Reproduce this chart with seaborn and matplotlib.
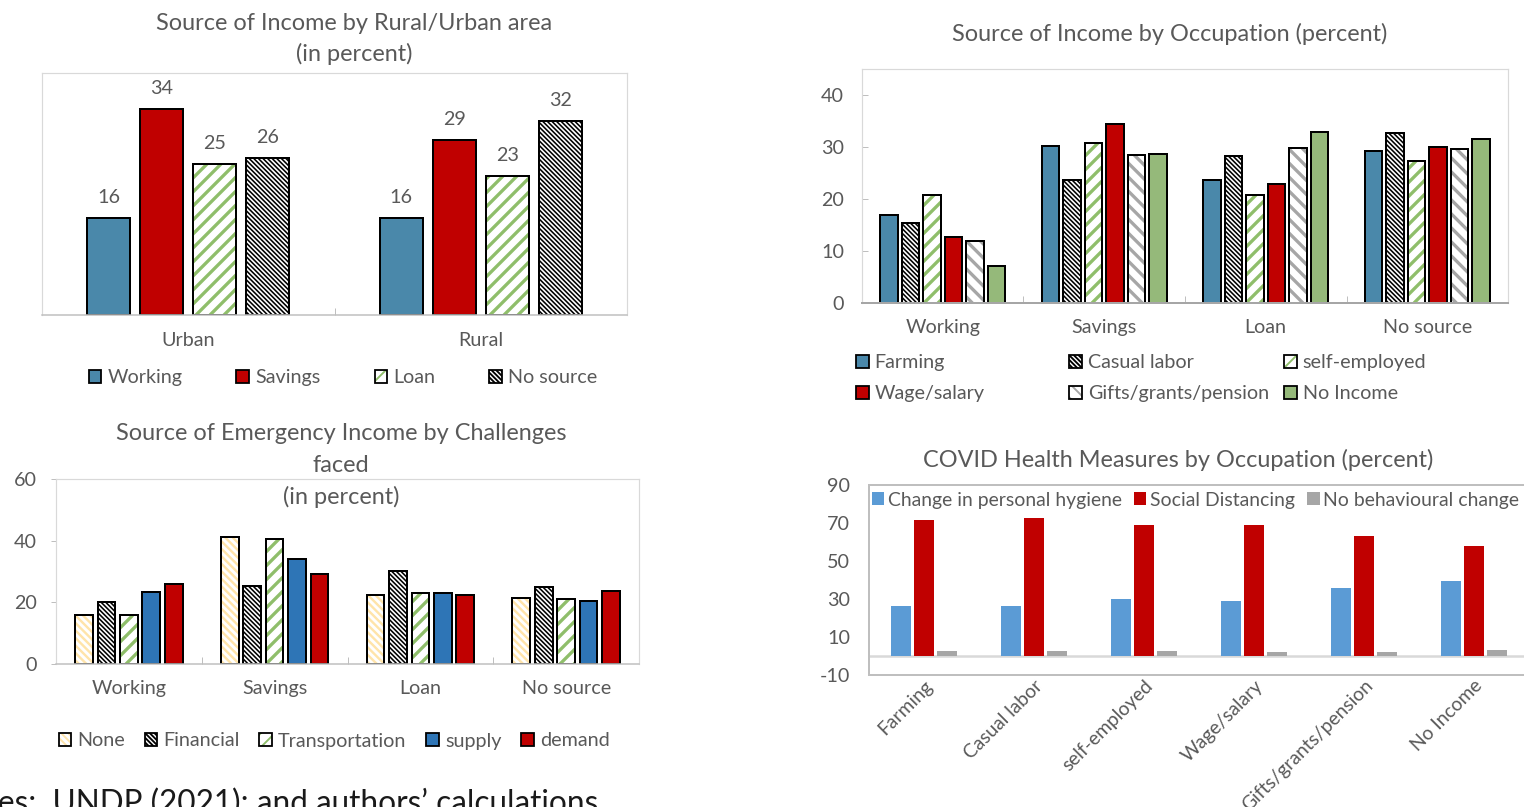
import numpy as np
import pandas as pd
import matplotlib
matplotlib.use("Agg")
import matplotlib.pyplot as plt
from matplotlib.patches import Patch, Rectangle
from matplotlib.collections import LineCollection
from matplotlib.transforms import IdentityTransform
from matplotlib.ticker import FixedLocator
import seaborn as sns

W, H, DPI = 1524, 807, 84

# ---------------- data ----------------
area_categories = ["Urban", "Rural"]
area_sources = ["Working", "Savings", "Loan", "No source"]
area_working = [16, 16]
area_savings = [34, 29]
area_loan = [25, 23]
area_nosource = [26, 32]

occ_sources = ["Working", "Savings", "Loan", "No source"]
occupations = ["Farming", "Casual labor", "self-employed",
               "Wage/salary", "Gifts/grants/pension", "No Income"]
occ_farming = [16.9, 30.1, 23.7, 29.2]
occ_casual = [15.3, 23.7, 28.3, 32.6]
occ_self = [20.8, 30.8, 20.8, 27.4]
occ_wage = [12.7, 34.4, 22.8, 30.0]
occ_gifts = [12.0, 28.5, 29.8, 29.7]
occ_noincome = [7.1, 28.6, 32.8, 31.5]

chal_sources = ["Working", "Savings", "Loan", "No source"]
challenges = ["None", "Financial", "Transportation", "supply", "demand"]
chal_none = [15.9, 41.1, 22.5, 21.3]
chal_financial = [20.0, 25.3, 30.3, 25.0]
chal_transport = [15.8, 40.5, 23.0, 21.2]
chal_supply = [23.3, 33.9, 23.0, 20.3]
chal_demand = [25.8, 29.1, 22.3, 23.7]

health_measures = ["Change in personal hygiene", "Social Distancing",
                   "No behavioural change"]
hygiene = [26.4, 26.4, 29.8, 29.2, 35.7, 39.6]
distancing = [71.8, 72.4, 68.7, 69.2, 62.9, 58.1]
no_change = [2.8, 2.5, 2.6, 2.3, 2.3, 3.2]

# ---------------- style ----------------
sns.set_style("white")
plt.rcParams["font.family"] = ["Lato", "DejaVu Sans"]
plt.rcParams["hatch.linewidth"] = 1.6
plt.rcParams["axes.unicode_minus"] = False

TXT = "#595959"
FRAME = "#D9D9D9"
BLUE = "#4A88AA"
RED = "#C00000"
GREEN = "#8FBE6A"
GRAY = "#A6A6A6"
CREAM = "#FFE4AA"

TITLE_FS = 23.5
TEXT_FS = 19.7


def pt(v):
    """pixels -> points"""
    return v * 72.0 / DPI


# stripe: (direction, horizontal spacing px, line width px, colour); hatch used for legend keys
S_BLUE = {"face": BLUE}
S_RED = {"face": RED}
S_GREEN_STRIPE = {"face": "white", "stripe": ("/", 14.0, 3.3, GREEN),
                  "hatch": "//", "hatch_color": GREEN}
S_BLACK_DENSE = {"face": "white", "stripe": ("\\", 4.6, 1.6, "black"),
                 "hatch": "\\\\\\\\\\\\", "hatch_color": "black"}
S_GRAY_STRIPE = {"face": "white", "stripe": ("\\", 14.0, 3.3, GRAY),
                 "hatch": "\\\\", "hatch_color": GRAY}
S_CREAM = {"face": "white", "stripe": ("\\", 7.5, 2.4, CREAM),
           "hatch": "\\\\\\\\", "hatch_color": CREAM}
S_GREEN = {"face": "#95B97A"}
S_SUPPLY = {"face": "#2E75B6"}


def add_axes_px(fig, left, top, width, height):
    return fig.add_axes([left / W, 1 - (top + height) / H, width / W, height / H])


def stripe_bar(ax, bar, stripe):
    direction, spacing, lw, color = stripe
    (xa, ya), (xb, yb) = ax.transData.transform(
        [(bar.get_x(), bar.get_y()),
         (bar.get_x() + bar.get_width(), bar.get_y() + bar.get_height())])
    xmin, xmax = min(xa, xb), max(xa, xb)
    ymin, ymax = min(ya, yb), max(ya, yb)
    h = ymax - ymin
    start = np.floor((xmin - h - 2) / spacing) * spacing
    segs = []
    for a in np.arange(start, xmax + spacing, spacing):
        if direction == "/":
            segs.append([(a, ymin), (a + h, ymax)])
        else:
            segs.append([(a, ymax), (a + h, ymin)])
    lc = LineCollection(segs, colors=color, linewidths=pt(lw),
                        transform=IdentityTransform(),
                        zorder=bar.get_zorder() + 0.05)
    ax.add_collection(lc, autolim=False)
    # clip each stripe set to its own bar (after add_collection, which sets the axes clip)
    lc.set_clip_path(bar)


def grouped_bars(ax, categories, names, values, styles, width, gap, edge_px, ylim):
    rows = []
    for name, vals in zip(names, values):
        for cat, v in zip(categories, vals):
            rows.append({"category": cat, "series": name, "value": v})
    df = pd.DataFrame(rows)
    sns.barplot(data=df, x="category", y="value", hue="series",
                order=categories, hue_order=names,
                palette=[s["face"] for s in styles], width=width, gap=gap,
                saturation=1, errorbar=None, legend=False, ax=ax)
    ax.set_xlim(-0.5, len(categories) - 0.5)
    ax.set_ylim(*ylim)
    for st, cont in zip(styles, ax.containers):
        for bar in cont.patches:
            bar.set_linewidth(0)
            bar.set_facecolor(st["face"])
            bar.set_edgecolor(st["face"])
            if "stripe" in st:
                stripe_bar(ax, bar, st["stripe"])
            if edge_px:
                ax.add_patch(Rectangle(bar.get_xy(), bar.get_width(), bar.get_height(),
                                       fill=False, edgecolor="black",
                                       linewidth=pt(edge_px),
                                       zorder=bar.get_zorder() + 0.1))
    ax.set_xlabel("")
    ax.set_ylabel("")


def legend_handles(styles, edge=True):
    hs = []
    for st in styles:
        if edge:
            if st.get("hatch"):
                base = Patch(facecolor=st["face"], edgecolor=st["hatch_color"],
                             hatch=st["hatch"], linewidth=0)
            else:
                base = Patch(facecolor=st["face"], linewidth=0)
            hs.append((base, Patch(facecolor="none", edgecolor="black",
                                   linewidth=pt(1.8))))
        else:
            hs.append(Patch(facecolor=st["face"], linewidth=0))
    return hs


def frame(ax, color=FRAME, lw_px=1.2, bottom_color="#BFBFBF", bottom_px=1.5):
    for s in ax.spines.values():
        s.set_visible(True)
        s.set_color(color)
        s.set_linewidth(pt(lw_px))
    ax.spines["bottom"].set_color(bottom_color)
    ax.spines["bottom"].set_linewidth(pt(bottom_px))


def category_axis(ax, n, pad_px, fs_px):
    ax.tick_params(axis="x", which="major", length=0, pad=pt(pad_px),
                   labelsize=pt(fs_px), labelcolor=TXT)
    ax.xaxis.set_minor_locator(FixedLocator(np.arange(0.5, n - 1, 1.0)))
    ax.tick_params(axis="x", which="minor", direction="in", length=pt(7),
                   width=pt(1), color="#BFBFBF", bottom=True)


fig = plt.figure(figsize=(W / DPI, H / DPI), dpi=DPI)
fig.patch.set_facecolor("white")

LEG_KW = dict(frameon=False, fontsize=pt(TEXT_FS), labelcolor=TXT,
              handlelength=0.65, handleheight=0.65, handletextpad=0.3,
              borderaxespad=0, borderpad=0)

# ---------- chart 1: source of income by rural/urban area ----------
ax1 = add_axes_px(fig, 42, 73, 585, 242)
styles1 = [S_BLUE, S_RED, S_GREEN_STRIPE, S_BLACK_DENSE]
grouped_bars(ax1, area_categories, area_sources,
             [area_working, area_savings, area_loan, area_nosource],
             styles1, width=0.726, gap=0.19, edge_px=2.0, ylim=(0, 40))
ax1.set_yticks([])
frame(ax1)
category_axis(ax1, 2, 17, TEXT_FS)
for cont in ax1.containers:
    ax1.bar_label(cont, fmt="%d", padding=pt(12), fontsize=pt(TEXT_FS), color=TXT)
fig.text(354 / W, 1 - 23 / H, "Source of Income by Rural/Urban area",
         ha="center", va="center", fontsize=pt(TITLE_FS), color=TXT)
fig.text(354 / W, 1 - 54 / H, "(in percent)",
         ha="center", va="center", fontsize=pt(TITLE_FS), color=TXT)
fig.legend(legend_handles(styles1), area_sources, loc="center",
           bbox_to_anchor=(343 / W, 1 - 378 / H), ncol=4, columnspacing=2.75,
           **LEG_KW)

# ---------- chart 2: source of income by occupation ----------
ax2 = add_axes_px(fig, 862, 69, 646, 234)
styles2 = [S_BLUE, S_BLACK_DENSE, S_GREEN_STRIPE, S_RED, S_GRAY_STRIPE, S_GREEN]
grouped_bars(ax2, occ_sources, occupations,
             [occ_farming, occ_casual, occ_self, occ_wage, occ_gifts, occ_noincome],
             styles2, width=0.8, gap=0.19, edge_px=2.0, ylim=(0, 45))
ax2.set_yticks([0, 10, 20, 30, 40])
ax2.tick_params(axis="y", direction="in", length=pt(6), width=pt(1),
                color="#BFBFBF", pad=pt(18), labelsize=pt(TEXT_FS),
                labelcolor=TXT, left=True)
frame(ax2, bottom_color="#A6A6A6", bottom_px=2.0)
category_axis(ax2, 4, 16, TEXT_FS)
fig.text(1170 / W, 1 - 34 / H, "Source of Income by Occupation (percent)",
         ha="center", va="center", fontsize=pt(TITLE_FS), color=TXT)
h2 = legend_handles(styles2)
for col, xpx in enumerate([856, 1069, 1284]):
    idx = [col, col + 3]
    fig.legend([h2[i] for i in idx], [occupations[i] for i in idx],
               loc="upper left", bbox_to_anchor=(xpx / W, 1 - 354 / H),
               ncol=1, labelspacing=0.72, **LEG_KW)

# ---------- chart 3: emergency income by challenges ----------
ax3 = add_axes_px(fig, 56, 479, 583, 185)
styles3 = [S_CREAM, S_BLACK_DENSE, S_GREEN_STRIPE, S_SUPPLY, S_RED]
grouped_bars(ax3, chal_sources, challenges,
             [chal_none, chal_financial, chal_transport, chal_supply, chal_demand],
             styles3, width=0.77, gap=0.21, edge_px=2.0, ylim=(0, 60))
ax3.set_yticks([0, 20, 40, 60])
ax3.tick_params(axis="y", direction="out", length=pt(5), width=pt(1),
                color="#BFBFBF", pad=pt(14), labelsize=pt(TEXT_FS),
                labelcolor=TXT, left=True)
frame(ax3)
category_axis(ax3, 4, 16, TEXT_FS)
for txt, ypx in [("Source of Emergency Income by Challenges", 434),
                 ("faced", 465), ("(in percent)", 497)]:
    fig.text(341 / W, 1 - ypx / H, txt, ha="center", va="center",
             fontsize=pt(TITLE_FS), color=TXT)
fig.legend(legend_handles(styles3), challenges, loc="center",
           bbox_to_anchor=(334 / W, 1 - 741 / H), ncol=5, columnspacing=1.0,
           **LEG_KW)

# ---------- chart 4: COVID health measures by occupation ----------
ax4 = add_axes_px(fig, 869, 485, 660, 190)
styles4 = [{"face": "#5B9BD5"}, {"face": RED}, {"face": GRAY}]
grouped_bars(ax4, occupations, health_measures,
             [hygiene, distancing, no_change],
             styles4, width=0.64, gap=0.15, edge_px=0, ylim=(-10, 90))
ax4.set_yticks([-10, 10, 30, 50, 70, 90])
ax4.tick_params(axis="y", length=0, pad=pt(19), labelsize=pt(TEXT_FS), labelcolor=TXT)
ax4.tick_params(axis="x", length=0, pad=pt(2), labelsize=pt(19.2), labelcolor=TXT)
plt.setp(ax4.get_xticklabels(), rotation=45, ha="right", va="top",
         rotation_mode="anchor")
for s in ax4.spines.values():
    s.set_visible(True)
    s.set_color("#BFBFBF")
    s.set_linewidth(pt(2))
ax4.axhline(0, color="#D9D9D9", linewidth=pt(2.5), zorder=0.5)
fig.text(1178 / W, 1 - 460 / H, "COVID Health Measures by Occupation (percent)",
         ha="center", va="center", fontsize=pt(TITLE_FS), color=TXT)
ax4.legend(legend_handles(styles4, edge=False), health_measures,
           loc="center left", bbox_to_anchor=(0.004, 0.92), ncol=3,
           frameon=False, fontsize=pt(19.4), labelcolor=TXT, handlelength=0.65,
           handleheight=0.65, handletextpad=0.2, columnspacing=0.6,
           borderaxespad=0, borderpad=0)

# ---------- footer ----------
fig.text(-2 / W, 1 - 813 / H, "es:  UNDP (2021); and authors\u2019 calculations",
         ha="left", va="baseline", fontsize=pt(31.5), color="#1A1A1A")

fig.savefig("out.png", dpi=DPI, facecolor="white")
